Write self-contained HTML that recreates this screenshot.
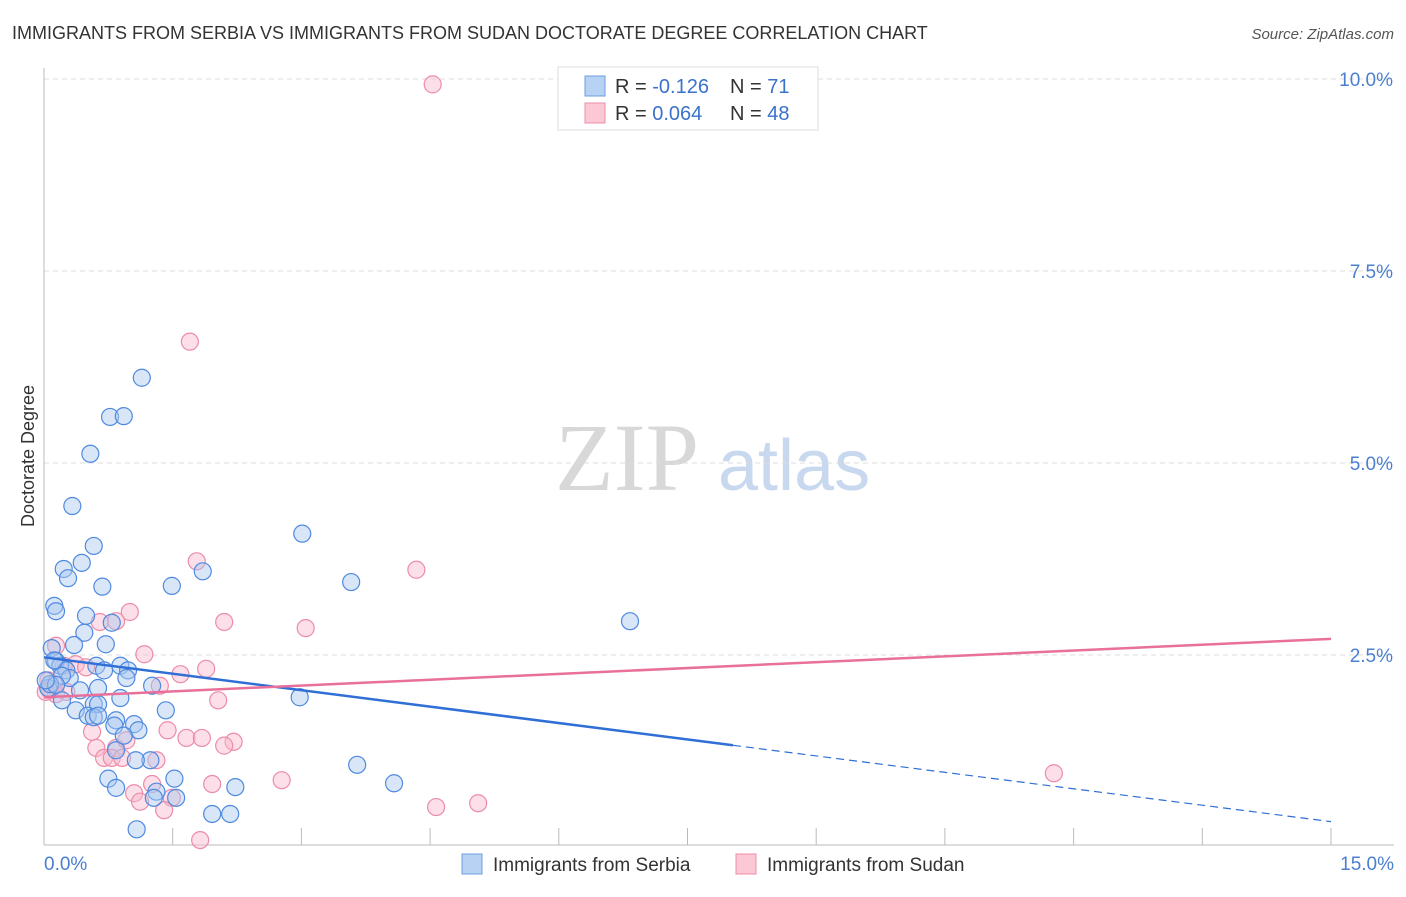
<!DOCTYPE html>
<html><head><meta charset="utf-8"><style>
body{margin:0;background:#fff;font-family:"Liberation Sans",sans-serif;}
</style></head><body>
<svg id="chart" width="1406" height="892" xmlns="http://www.w3.org/2000/svg" style="font-family:'Liberation Sans',sans-serif">
<text x="12" y="39" font-size="18" fill="#333">IMMIGRANTS FROM SERBIA VS IMMIGRANTS FROM SUDAN DOCTORATE DEGREE CORRELATION CHART</text>
<text x="1394" y="39" font-size="15" fill="#555" text-anchor="end" font-style="italic">Source: ZipAtlas.com</text>
<g>
<text x="555" y="490" font-size="96" font-family="'Liberation Serif',serif" fill="#d8d8d8">ZIP</text>
<text x="718" y="490" font-size="72" fill="#c8d8ee">atlas</text>
</g>
<g id="grid"></g>
<g id="axes"></g>
<g id="marks"></g>
<text transform="translate(34,456) rotate(-90)" font-size="18" fill="#333" text-anchor="middle">Doctorate Degree</text>
<g>
<rect x="558" y="67" width="260" height="63" fill="#fff" stroke="#ddd"/>
<rect x="585" y="76" width="20" height="20" fill="#b8d2f4" stroke="#6d9ee0"/>
<rect x="585" y="103" width="20" height="20" fill="#fcc8d6" stroke="#ec8ca8"/>
<text x="615" y="93" font-size="20" fill="#333">R = <tspan fill="#3a72cc">-0.126</tspan></text>
<text x="730" y="93" font-size="20" fill="#333">N = <tspan fill="#3a72cc"> 71</tspan></text>
<text x="615" y="120" font-size="20" fill="#333">R = <tspan fill="#3a72cc">0.064</tspan></text>
<text x="730" y="120" font-size="20" fill="#333">N = <tspan fill="#3a72cc">48</tspan></text>
</g>
<g>
<rect x="462" y="854" width="20" height="20" fill="#b8d2f4" stroke="#6d9ee0"/>
<text x="493" y="871" font-size="19" fill="#333">Immigrants from Serbia</text>
<rect x="736" y="854" width="20" height="20" fill="#fcc8d6" stroke="#ec8ca8"/>
<text x="767" y="871" font-size="19" fill="#333">Immigrants from Sudan</text>
</g>
</svg>
<script>
const serbiaX=[1.14,0.77,0.93,0.54,0.33,3.01,0.58,0.44,0.23,0.28,1.85,0.68,1.49,3.58,0.12,0.14,0.49,6.83,0.79,0.47,0.72,0.35,0.09,0.14,0.19,0.26,0.61,0.70,0.89,0.98,0.30,0.21,0.42,0.63,0.96,1.26,0.05,0.07,2.98,0.89,0.58,0.63,0.37,1.42,0.51,0.58,0.84,0.63,0.82,1.05,1.10,0.93,0.84,1.24,1.07,3.65,0.75,1.52,4.08,0.84,2.23,1.31,1.28,1.54,1.96,2.17,1.08,0.14,0.02,0.12,0.21];
const serbiaY=[6.11,5.60,5.61,5.12,4.44,4.08,3.92,3.70,3.62,3.50,3.59,3.39,3.40,3.45,3.14,3.07,3.01,2.94,2.92,2.79,2.64,2.63,2.59,2.42,2.36,2.30,2.36,2.30,2.36,2.30,2.20,2.23,2.04,2.07,2.20,2.10,2.07,2.12,1.95,1.94,1.86,1.86,1.78,1.78,1.71,1.69,1.65,1.71,1.58,1.60,1.52,1.45,1.26,1.13,1.13,1.07,0.89,0.89,0.83,0.77,0.78,0.72,0.64,0.64,0.43,0.43,0.23,2.11,2.17,2.43,1.91];
const sudanX=[4.53,1.70,1.78,4.34,1.00,0.84,0.65,2.10,3.05,0.14,1.17,0.37,1.89,1.59,1.35,0.07,0.14,2.03,0.56,1.44,1.66,1.84,2.21,2.10,0.61,0.84,0.96,0.70,0.79,0.91,1.31,1.26,1.96,2.77,11.77,1.05,1.12,1.49,1.40,4.57,5.06,1.82,0.05,0.12,0.23,0.49,0.02,0.26];
const sudanY=[9.93,6.58,3.72,3.61,3.06,2.94,2.93,2.93,2.85,2.62,2.51,2.38,2.32,2.25,2.10,2.04,1.99,1.91,1.50,1.52,1.42,1.42,1.37,1.32,1.29,1.29,1.39,1.16,1.16,1.16,1.13,0.82,0.82,0.87,0.96,0.70,0.59,0.64,0.48,0.52,0.57,0.09,2.17,2.12,2.36,2.34,2.02,2.02];
const serbiaTrend=[2.47,0.33]; const serbiaSolidEnd=8.03;
const sudanTrend=[1.95,2.71];
const yTicks=[2.5,5.0,7.5,10.0];
const xTickVals=[0,1.5,3,4.5,6,7.5,9,10.5,12,13.5,15];
const NS="http://www.w3.org/2000/svg";
const sx=v=>44+v/15*1287, sy=v=>847-v/2.5*192;
function mk(parent,tag,attrs){const e=document.createElementNS(NS,tag);for(const k in attrs)e.setAttribute(k,attrs[k]);document.getElementById(parent).appendChild(e);return e;}
yTicks.forEach(t=>{
 const l=mk('grid','line',{x1:44,x2:1394,y1:sy(t),y2:sy(t),stroke:'#ddd','stroke-dasharray':'5,4'});
 
 
 const tx=mk('axes','text',{x:1393,y:sy(t)+7,'font-size':19,fill:'#4a7fd0','text-anchor':'end'});
 tx.textContent=t.toFixed(1)+'%';
 
 
});
const ax=mk('axes','line',{x1:44,x2:1394,y1:845,y2:845,stroke:'#bbb'});


const ay=mk('axes','line',{x1:44,x2:44,y1:68,y2:845,stroke:'#bbb'});


xTickVals.forEach(t=>{const l=mk('axes','line',{x1:sx(t),x2:sx(t),y1:828,y2:845,stroke:'#bbb'});
 
 });
[[0,'0.0%','start',44],[15,'15.0%','end',1394]].forEach(a=>{const tx=mk('axes','text',{x:a[3],y:870,'font-size':19,fill:'#4a7fd0','text-anchor':a[2]});tx.textContent=a[1];
 
 });
function dots(X,Y,fill,stroke,name){X.forEach((x,i)=>{const c=mk('marks','circle',{cx:sx(x),cy:sy(Y[i]),r:8.5,fill:fill,'fill-opacity':0.45,stroke:stroke,'stroke-width':1.2});
 
 });}
dots(sudanX,sudanY,'#f9b8cb','#ec8ca8','sudan-point');
dots(serbiaX,serbiaY,'#a9c8f0','#4f8ae0','serbia-point');
const bl=mk('marks','line',{x1:sx(0),y1:sy(serbiaTrend[0]),x2:sx(serbiaSolidEnd),y2:sy(serbiaTrend[0]+(serbiaTrend[1]-serbiaTrend[0])*serbiaSolidEnd/15),stroke:'#2f6fd6','stroke-width':2.5});


const bd=mk('marks','line',{x1:sx(serbiaSolidEnd),y1:sy(serbiaTrend[0]+(serbiaTrend[1]-serbiaTrend[0])*serbiaSolidEnd/15),x2:sx(15),y2:sy(serbiaTrend[1]),stroke:'#2f6fd6','stroke-width':1.2,'stroke-dasharray':'8,5'});


const pl=mk('marks','line',{x1:sx(0),y1:sy(sudanTrend[0]),x2:sx(15),y2:sy(sudanTrend[1]),stroke:'#e8709a','stroke-width':2.5});


</script>
</body></html>
